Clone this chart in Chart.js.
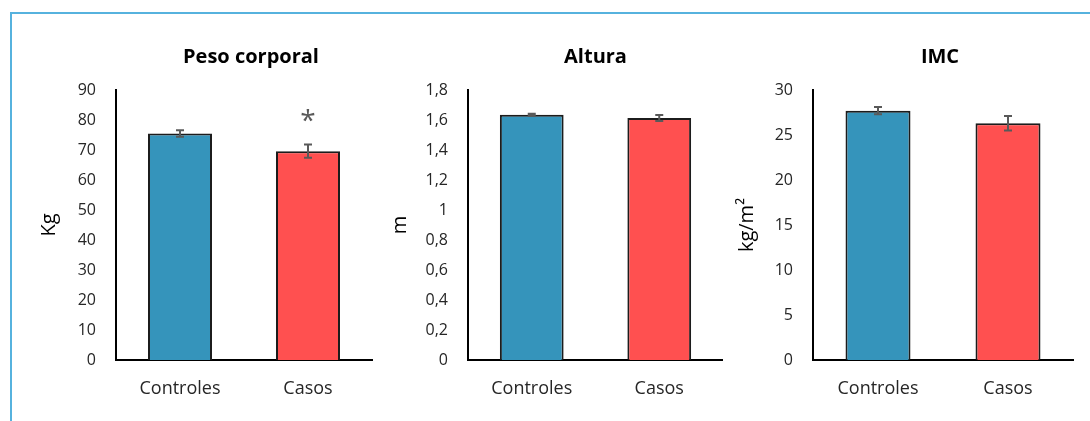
<!DOCTYPE html>
<html>
<head>
<meta charset="utf-8">
<script src="https://cdn.jsdelivr.net/npm/chart.js@4"></script>
<style>
  body { margin: 0; background: #fff; }
  #wrap { position: relative; width: 1090px; height: 421px; overflow: hidden; }
  #frame { position: absolute; left: 10px; top: 12px; width: 1100px; height: 430px;
           border-left: 2px solid #56b2de; border-top: 2px solid #56b2de; }
  canvas { position: absolute; top: 0; }
</style>
</head>
<body>
<div id="wrap">
  <div id="frame"></div>
  <canvas id="c1" width="360" height="421" style="left:20px"></canvas>
  <canvas id="c2" width="343" height="421" style="left:380px"></canvas>
  <canvas id="c3" width="367" height="421" style="left:723px"></canvas>
</div>
<script>
// --- DATA ---
const categories = ['Controles', 'Casos'];

const pesoValues = [75.5, 69.6];
const pesoErrors = [1.1, 2.2];
const pesoMarks = ['', '*'];
const pesoTicks = [0, 10, 20, 30, 40, 50, 60, 70, 80, 90];

const alturaValues = [1.635, 1.614];
const alturaErrors = [0.006, 0.02];
const alturaTicks = [0, 0.2, 0.4, 0.6, 0.8, 1, 1.2, 1.4, 1.6, 1.8];

const imcValues = [27.7, 26.3];
const imcErrors = [0.4, 0.8];
const imcTicks = [0, 5, 10, 15, 20, 25, 30];

const barColors = ['#3594bb', '#ff5050'];
const FONT = "'Open Sans', sans-serif";

// --- PLUGINS ---
const errorBars = {
    id: 'errorBars',
    afterDatasetsDraw(chart, args, opts) {
        const ctx = chart.ctx, y = chart.scales.y;
        const meta = chart.getDatasetMeta(0);
        const vals = chart.data.datasets[0].data;
        ctx.save();
        ctx.strokeStyle = '#595959'; ctx.lineWidth = 2;
        meta.data.forEach((bar, i) => {
            const top = y.getPixelForValue(vals[i] + opts.errors[i]);
            const bot = y.getPixelForValue(vals[i] - opts.errors[i]);
            ctx.beginPath();
            ctx.moveTo(bar.x, top); ctx.lineTo(bar.x, bot);
            ctx.moveTo(bar.x - 4, top); ctx.lineTo(bar.x + 4, top);
            ctx.moveTo(bar.x - 4, bot); ctx.lineTo(bar.x + 4, bot);
            ctx.stroke();
            if (opts.marks && opts.marks[i]) {
                ctx.fillStyle = '#595959';
                ctx.font = '28px ' + FONT;
                ctx.textAlign = 'center'; ctx.textBaseline = 'middle';
                ctx.fillText(opts.marks[i], bar.x, y.getPixelForValue(opts.markAt) + 5);
            }
        });
        ctx.restore();
    }
};

const topTitle = {
    id: 'topTitle',
    afterDraw(chart, args, opts) {
        const ctx = chart.ctx, a = chart.chartArea;
        ctx.save();
        ctx.fillStyle = '#000';
        ctx.font = 'bold 20px ' + FONT;
        ctx.textAlign = 'center'; ctx.textBaseline = 'middle';
        ctx.fillText(opts.text, (a.left + a.right) / 2 + (opts.dx || 0), 57);
        ctx.restore();
    }
};

function makeChart(id, cfg) {
    new Chart(document.getElementById(id), {
        type: 'bar',
        data: {
            labels: categories,
            datasets: [{
                data: cfg.values,
                backgroundColor: barColors,
                borderColor: '#1c1c1c',
                borderWidth: 2,
                borderSkipped: 'bottom',
                categoryPercentage: 1,
                barPercentage: 0.5
            }]
        },
        options: {
            responsive: false,
            animation: false,
            layout: { padding: { left: cfg.padL, right: cfg.padR, top: 90, bottom: 11 } },
            plugins: {
                legend: { display: false },
                tooltip: { enabled: false },
                errorBars: { errors: cfg.errors, marks: cfg.marks, markAt: cfg.markAt },
                topTitle: { text: cfg.title, dx: cfg.titleDx }
            },
            scales: {
                x: {
                    grid: { display: false },
                    border: { display: true, color: '#000', width: 2 },
                    ticks: { color: '#262626', font: { family: FONT, size: 18 }, padding: 10 },
                    afterFit: s => { s.height = 50; }
                },
                y: {
                    min: 0, max: cfg.ticks[cfg.ticks.length - 1],
                    grid: { display: false },
                    border: { display: true, color: '#000', width: 2 },
                    afterBuildTicks: s => { s.ticks = cfg.ticks.map(v => ({ value: v })); },
                    ticks: {
                        color: '#262626', font: { family: FONT, size: 16 }, padding: 12,
                        callback: v => String(+v.toFixed(1)).replace('.', ',')
                    },
                    title: {
                        display: true, text: cfg.yTitle, color: '#000',
                        font: { family: FONT, size: 20 }, padding: 0
                    },
                    afterFit: s => { s.width = cfg.yWidth; }
                }
            }
        },
        plugins: [errorBars, topTitle]
    });
}

makeChart('c1', { values: pesoValues, errors: pesoErrors, marks: pesoMarks, markAt: 81,
    ticks: pesoTicks, title: 'Peso corporal', titleDx: 7, yTitle: 'Kg', padL: 17, padR: 8, yWidth: 79 });
makeChart('c2', { values: alturaValues, errors: alturaErrors,
    ticks: alturaTicks, title: 'Altura', titleDx: 0, yTitle: 'm', padL: 8, padR: 0, yWidth: 80 });
makeChart('c3', { values: imcValues, errors: imcErrors,
    ticks: imcTicks, title: 'IMC', titleDx: -3, yTitle: 'kg/m²', padL: 12, padR: 17, yWidth: 78 });
</script>
</body>
</html>
